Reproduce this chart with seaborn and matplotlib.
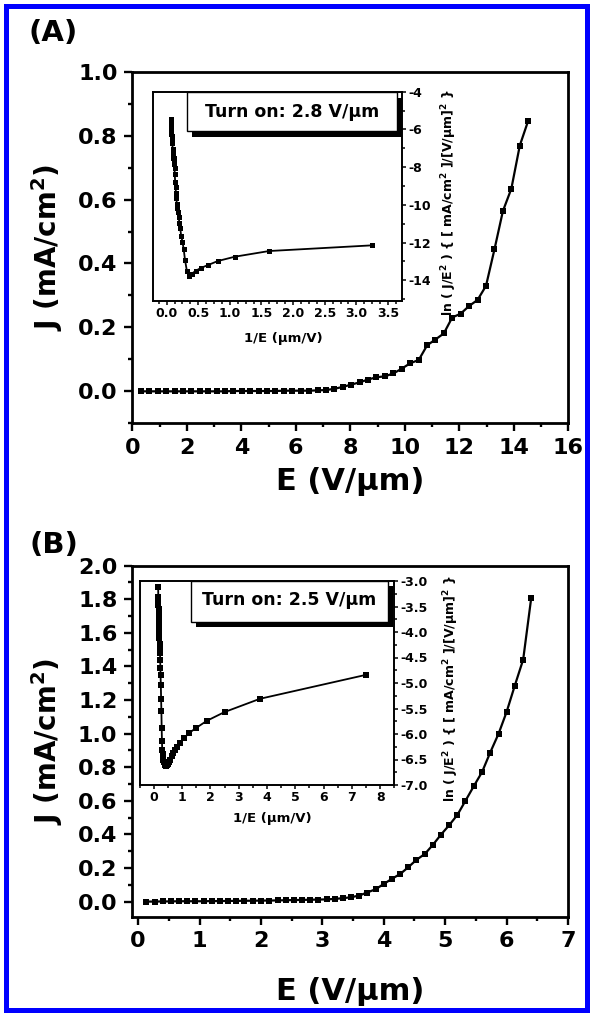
import matplotlib
matplotlib.use('Agg')
import matplotlib.pyplot as plt
import seaborn as sns
import pandas as pd
from matplotlib.patches import Rectangle
from matplotlib.ticker import MultipleLocator, FormatStrFormatter

# ---------------- data ----------------
E_A = [0.31, 0.62, 0.93, 1.24, 1.55, 1.85, 2.16, 2.47, 2.78, 3.09, 3.40, 3.71,
       4.02, 4.33, 4.64, 4.94, 5.25, 5.56, 5.87, 6.18, 6.49, 6.80, 7.11, 7.42,
       7.73, 8.03, 8.34, 8.65, 8.96, 9.27, 9.58, 9.89, 10.20, 10.51, 10.82, 11.12,
       11.43, 11.74, 12.05, 12.36, 12.67, 12.98, 13.29, 13.60, 13.91, 14.22, 14.53]
J_A = [0.000, 0.000, 0.000, 0.000, 0.000, 0.000, 0.000, 0.000, 0.000, 0.000, 0.000, 0.001,
       0.001, 0.001, 0.001, 0.001, 0.001, 0.002, 0.002, 0.002, 0.002, 0.003, 0.004, 0.008,
       0.014, 0.021, 0.028, 0.037, 0.044, 0.047, 0.056, 0.071, 0.088, 0.098, 0.144, 0.162,
       0.181, 0.231, 0.243, 0.267, 0.286, 0.330, 0.444, 0.564, 0.634, 0.769, 0.847]
invE_A = [3.24, 1.62, 1.08, 0.81, 0.65, 0.54, 0.46, 0.40, 0.36, 0.32, 0.29, 0.27,
          0.25, 0.23, 0.216, 0.202, 0.190, 0.180, 0.170, 0.162, 0.154, 0.147, 0.141, 0.135,
          0.129, 0.125, 0.120, 0.116, 0.112, 0.108, 0.104, 0.101, 0.098, 0.095, 0.092, 0.090,
          0.087, 0.085, 0.083, 0.081, 0.079, 0.077, 0.075, 0.074, 0.072, 0.070, 0.069]
lnJE_A = [-12.15, -12.45, -12.75, -12.98, -13.20, -13.35, -13.50, -13.65, -13.78, -13.50, -12.90, -12.35,
          -11.95, -11.65, -11.25, -10.95, -10.65, -10.40, -10.15, -9.95, -9.65, -9.35, -9.05, -8.80,
          -8.36, -8.04, -7.82, -7.62, -7.51, -7.52, -7.40, -7.23, -7.07, -7.03, -6.70, -6.65,
          -6.58, -6.47, -6.40, -6.35, -6.33, -6.25, -5.99, -5.80, -5.72, -5.58, -5.45]

E_B = [0.13, 0.27, 0.40, 0.53, 0.67, 0.80, 0.93, 1.07, 1.20, 1.33, 1.47, 1.60,
       1.73, 1.87, 2.00, 2.13, 2.27, 2.40, 2.53, 2.67, 2.80, 2.93, 3.07, 3.20,
       3.33, 3.47, 3.60, 3.73, 3.87, 4.00, 4.13, 4.27, 4.40, 4.53, 4.67, 4.80,
       4.93, 5.07, 5.20, 5.33, 5.47, 5.60, 5.73, 5.87, 6.00, 6.13, 6.27, 6.40]
J_B = [0.000, 0.000, 0.001, 0.001, 0.002, 0.002, 0.002, 0.002, 0.003, 0.003, 0.004, 0.004,
       0.005, 0.005, 0.006, 0.006, 0.007, 0.008, 0.009, 0.010, 0.011, 0.012, 0.013, 0.016,
       0.020, 0.026, 0.036, 0.054, 0.074, 0.105, 0.135, 0.165, 0.205, 0.248, 0.284, 0.338,
       0.398, 0.457, 0.517, 0.600, 0.690, 0.771, 0.885, 1.000, 1.129, 1.282, 1.441, 1.805]
invE_B = [7.50, 3.75, 2.50, 1.88, 1.50, 1.25, 1.07, 0.94, 0.83, 0.75, 0.68, 0.63,
          0.58, 0.54, 0.50, 0.47, 0.44, 0.42, 0.39, 0.38, 0.36, 0.34, 0.33, 0.31,
          0.30, 0.29, 0.28, 0.27, 0.26, 0.25, 0.24, 0.234, 0.227, 0.221, 0.214, 0.208,
          0.203, 0.197, 0.192, 0.188, 0.183, 0.179, 0.174, 0.170, 0.167, 0.163, 0.160, 0.156]
lnJE_B = [-4.84, -5.31, -5.57, -5.74, -5.88, -5.98, -6.08, -6.17, -6.25, -6.32, -6.38, -6.44,
          -6.50, -6.54, -6.58, -6.60, -6.62, -6.62, -6.60, -6.58, -6.55, -6.50, -6.45, -6.40,
          -6.32, -6.14, -5.89, -5.55, -5.31, -5.03, -4.84, -4.70, -4.55, -4.42, -4.34, -4.23,
          -4.11, -4.03, -3.96, -3.86, -3.77, -3.71, -3.61, -3.54, -3.47, -3.38, -3.31, -3.12]

panel_labels = ['(A)', '(B)']
turn_on_labels = ['Turn on: 2.8 V/\u00b5m', 'Turn on: 2.5 V/\u00b5m']
main_xlabel = 'E (V/\u00b5m)'
main_ylabel = 'J (mA/cm$^2$)'
inset_xlabel = '1/E (\u00b5m/V)'
inset_ylabel = 'ln ( J/E$^2$ ) { [ mA/cm$^2$ ]/[V/\u00b5m]$^2$ }'

# ---------------- style ----------------
sns.set_style('ticks')
plt.rcParams['font.family'] = ['DejaVu Sans']
plt.rcParams['font.weight'] = 'bold'
plt.rcParams['mathtext.fontset'] = 'dejavusans'
plt.rcParams['mathtext.default'] = 'bf'
plt.rcParams['axes.unicode_minus'] = False
for key in ['text.color', 'axes.labelcolor', 'xtick.color', 'ytick.color',
            'xtick.labelcolor', 'ytick.labelcolor', 'axes.edgecolor']:
    plt.rcParams[key] = 'black'

W, H = 592, 1015
fig = plt.figure(figsize=(W / 100, H / 100), dpi=100)
fig.patch.set_facecolor('white')


def frac_rect(l, t, r, b):
    return [l / W, 1 - b / H, (r - l) / W, (b - t) / H]


def style_main(ax, xlim, ylim, xmaj, xmin, ymaj, ymin, xfmt, yfmt, xlab_y):
    ax.set_xlim(*xlim)
    ax.set_ylim(*ylim)
    ax.xaxis.set_major_locator(MultipleLocator(xmaj))
    ax.xaxis.set_minor_locator(MultipleLocator(xmin))
    ax.yaxis.set_major_locator(MultipleLocator(ymaj))
    ax.yaxis.set_minor_locator(MultipleLocator(ymin))
    ax.xaxis.set_major_formatter(FormatStrFormatter(xfmt))
    ax.yaxis.set_major_formatter(FormatStrFormatter(yfmt))
    for s in ax.spines.values():
        s.set_linewidth(2.0)
        s.set_color('black')
        s.set_visible(True)
    ax.tick_params(which='both', direction='out', top=False, right=False,
                   width=1.7, color='black', labelcolor='black')
    ax.tick_params(which='major', length=5.5, labelsize=16, pad=5)
    ax.tick_params(which='minor', length=3)
    for lab in ax.get_xticklabels() + ax.get_yticklabels():
        lab.set_fontweight('bold')
    ax.set_xlabel(main_xlabel, fontsize=22, fontweight='bold', va='center', color='black')
    ax.xaxis.set_label_coords(0.5, xlab_y)
    ax.set_ylabel(main_ylabel, fontsize=20, fontweight='bold', va='center', ha='center',
                  color='black')
    ax.yaxis.set_label_coords(-0.195, 0.5)
    ax.set_facecolor('white')
    ax.grid(False)


def style_inset(ax, xlim, ylim, xmaj, xmin, ymaj, ymin, xfmt, yfmt, xlab_pos, ylab_x):
    ax.set_xlim(*xlim)
    ax.set_ylim(*ylim)
    ax.xaxis.set_major_locator(MultipleLocator(xmaj))
    ax.xaxis.set_minor_locator(MultipleLocator(xmin))
    ax.yaxis.set_major_locator(MultipleLocator(ymaj))
    ax.yaxis.set_minor_locator(MultipleLocator(ymin))
    ax.xaxis.set_major_formatter(FormatStrFormatter(xfmt))
    ax.yaxis.set_major_formatter(FormatStrFormatter(yfmt))
    ax.yaxis.tick_right()
    ax.yaxis.set_label_position('right')
    for s in ax.spines.values():
        s.set_linewidth(1.4)
        s.set_color('black')
        s.set_visible(True)
    ax.tick_params(which='both', direction='out', left=False, top=False,
                   right=True, bottom=True, width=1.1, color='black', labelcolor='black')
    ax.tick_params(which='major', length=3, labelsize=9, pad=1.5)
    ax.tick_params(which='minor', length=1.8)
    for lab in ax.get_xticklabels() + ax.get_yticklabels():
        lab.set_fontweight('bold')
    ax.set_xlabel(inset_xlabel, fontsize=9.5, fontweight='bold', va='center', color='black')
    ax.xaxis.set_label_coords(*xlab_pos)
    ax.set_ylabel(inset_ylabel, fontsize=9, fontweight='bold', va='center', ha='center',
                  color='black')
    ax.yaxis.set_label_coords(ylab_x, 0.47)
    ax.set_facecolor('white')
    ax.grid(False)


def turn_on_box(ax, text, l, r, b, dx, dy, tx, ty):
    ax.add_patch(Rectangle((l + dx, b + dy), r - l, 1.0 - b, transform=ax.transAxes,
                           facecolor='black', edgecolor='none', zorder=5, clip_on=False))
    ax.add_patch(Rectangle((l, b), r - l, 1.0 - b, transform=ax.transAxes,
                           facecolor='white', edgecolor='black', linewidth=1.0,
                           zorder=6, clip_on=False))
    ax.text(tx, ty, text, transform=ax.transAxes, ha='center', va='center',
            fontsize=12.5, fontweight='bold', color='black', zorder=7)


# ---------------- panel A ----------------
axA = fig.add_axes(frac_rect(132.3, 71.7, 568.3, 423.3))
sns.lineplot(data=pd.DataFrame({'E': E_A, 'J': J_A}), x='E', y='J', ax=axA,
             color='black', marker='s', markersize=4.3, markeredgewidth=0,
             linewidth=1.6, estimator=None, sort=False, legend=False)
style_main(axA, (0, 16), (-0.1, 1.0), 2, 1, 0.2, 0.1, '%d', '%.1f', -0.166)

insA = fig.add_axes(frac_rect(152.7, 91.7, 401.9, 301.0))
sns.lineplot(data=pd.DataFrame({'x': invE_A, 'y': lnJE_A}), x='x', y='y', ax=insA,
             color='black', marker='s', markersize=3.6, markeredgewidth=0,
             linewidth=1.3, estimator=None, sort=False, legend=False)
style_inset(insA, (-0.22, 3.72), (-15.1, -4.0), 0.5, 0.125, 2, 1, '%.1f', '%d',
            (0.523, -0.177), 1.19)
turn_on_box(insA, turn_on_labels[0], 0.139, 0.979, 0.814, 0.02, -0.029, 0.559, 0.905)

# ---------------- panel B ----------------
axB = fig.add_axes(frac_rect(132.0, 565.7, 568.0, 916.7))
sns.lineplot(data=pd.DataFrame({'E': E_B, 'J': J_B}), x='E', y='J', ax=axB,
             color='black', marker='s', markersize=4.5, markeredgewidth=0,
             linewidth=1.6, estimator=None, sort=False, legend=False)
style_main(axB, (-0.1, 7.0), (-0.09, 2.0), 1, 0.5, 0.2, 0.1, '%d', '%.1f', -0.214)

insB = fig.add_axes(frac_rect(139.6, 581.0, 394.3, 785.0))
sns.lineplot(data=pd.DataFrame({'x': invE_B, 'y': lnJE_B}), x='x', y='y', ax=insB,
             color='black', marker='s', markersize=4.2, markeredgewidth=0,
             linewidth=1.3, estimator=None, sort=False, legend=False)
style_inset(insB, (-0.5, 8.5), (-7.0, -3.0), 1, 0.5, 0.5, 0.25, '%d', '%.1f',
            (0.52, -0.162), 1.223)
turn_on_box(insB, turn_on_labels[1], 0.203, 0.975, 0.80, 0.018, -0.025, 0.589, 0.905)

# ---------------- panel letters & border ----------------
fig.text(53.5 / W, 1 - 33 / H, panel_labels[0], fontsize=21, fontweight='bold',
         ha='center', va='center', color='black')
fig.text(53.5 / W, 1 - 545 / H, panel_labels[1], fontsize=21, fontweight='bold',
         ha='center', va='center', color='black')
fig.add_artist(Rectangle((5.5 / W, 5.5 / H), (W - 11) / W, (H - 11) / H,
                         transform=fig.transFigure, fill=False,
                         edgecolor='#0000ff', linewidth=3.6))

fig.savefig('out.png', dpi=100)
